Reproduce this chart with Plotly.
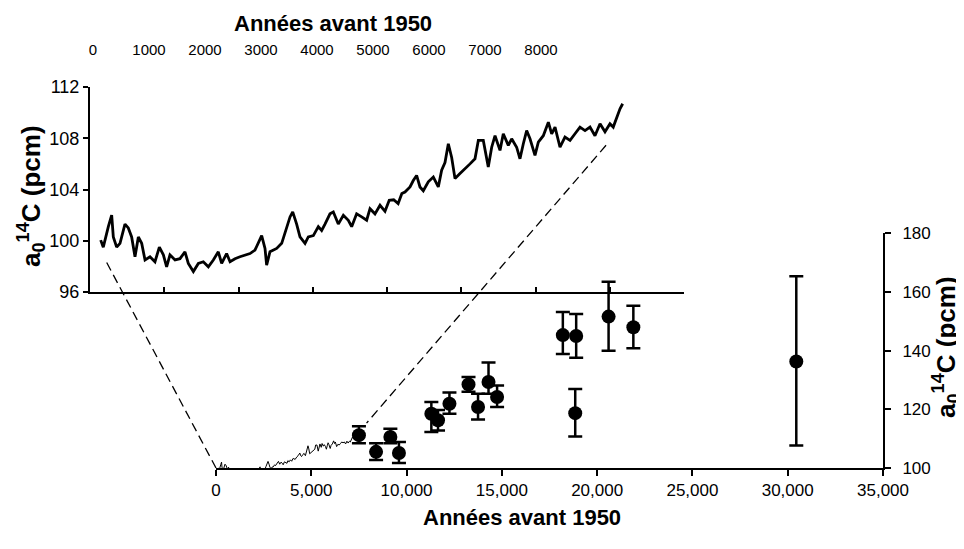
import plotly.graph_objects as go

# ---------------- data ----------------
# Holocene record (inset, also drawn small in the main panel)
holo_years = [144, 179, 247, 292, 314, 359, 404, 471, 516, 561, 606, 651, 696, 741, 808, 875, 934, 988,
              1032, 1077, 1145, 1212, 1279, 1324, 1392, 1459, 1526, 1594, 1661, 1728, 1773, 1840, 1886,
              1953, 2020, 2088, 2155, 2222, 2312, 2357, 2379, 2424, 2514, 2582, 2626, 2694, 2730, 2783,
              2828, 2896, 2940, 3008, 3075, 3120, 3165, 3232, 3277, 3344, 3412, 3479, 3524, 3591, 3659,
              3726, 3771, 3838, 3906, 3973, 4030, 4090, 4150, 4200, 4242, 4310, 4354, 4399, 4444, 4489,
              4556, 4624, 4691, 4736, 4781, 4826, 4871, 4916, 4983, 5051, 5118, 5185, 5230, 5297, 5364,
              5410, 5455, 5522, 5566, 5634, 5679, 5746, 5791, 5836, 5881, 5926, 5993, 6038, 6105, 6173,
              6218, 6263, 6330, 6397, 6465, 6532, 6599, 6667, 6734, 6801, 6869, 6936, 7003, 7047, 7093,
              7138, 7174]
holo_a14c = [100.05, 99.5, 101.1, 102.0, 100.3, 99.5, 99.8, 101.3, 101.0, 100.3, 98.75, 100.3, 99.8, 98.5,
             98.75, 98.36, 99.5, 98.9, 97.97, 98.9, 98.5, 98.6, 99.14, 98.23, 97.6, 98.23, 98.36, 97.97,
             98.5, 99.14, 98.23, 99.0, 98.36, 98.6, 98.75, 98.9, 99.0, 99.27, 100.4, 99.4, 98.1, 99.14,
             99.4, 99.8, 100.57, 101.86, 102.25, 101.3, 100.3, 99.8, 100.3, 100.4, 101.1, 100.8, 101.3,
             102.1, 102.25, 101.3, 101.99, 101.6, 101.1, 102.1, 101.86, 101.6, 102.5, 102.1, 102.77,
             102.3, 103.16, 103.2, 102.9, 103.68, 103.8, 104.2, 104.7, 105.1, 104.2, 103.9, 104.6, 104.97,
             104.2, 105.5, 106.1, 107.57, 106.5, 104.85, 105.24, 105.6, 106.0, 106.4, 107.83, 107.83,
             105.75, 107.3, 108.2, 107.05, 108.35, 107.44, 107.96, 107.3, 106.4, 107.57, 108.6, 107.96,
             106.66, 107.7, 108.2, 109.25, 108.35, 108.87, 107.3, 108.09, 107.83, 108.35, 108.87, 108.6,
             108.87, 108.2, 109.13, 108.5, 109.13, 108.87, 109.64, 110.3, 110.69]

# Dated samples (main panel)
pt_years = [7500, 8400, 9150, 9600, 11300, 11650, 12250, 13250, 13750, 14300, 14750,
            18200, 18900, 18850, 20600, 21900, 30450]
pt_a14c = [111.2, 105.5, 110.6, 105.1, 118.5, 116.3, 121.9, 128.5, 120.8, 129.3, 124.2,
           145.3, 145.0, 118.7, 151.6, 148.0, 136.3]
pt_err_plus = [3.0, 2.9, 2.8, 3.8, 4.0, 3.5, 3.8, 2.5, 4.5, 6.7, 3.9, 7.9, 7.5, 8.2, 11.9, 7.3, 29.1]
pt_err_minus = [2.8, 2.8, 2.2, 3.4, 6.2, 3.5, 3.4, 2.5, 4.3, 4.0, 3.4, 6.4, 7.4, 8.0, 11.6, 7.2, 28.6]

# ticks
inset_x_ticks = [0, 1000, 2000, 3000, 4000, 5000, 6000, 7000, 8000]
inset_y_ticks = [96, 100, 104, 108, 112]
main_x_ticks = [0, 5000, 10000, 15000, 20000, 25000, 30000, 35000]
main_y_ticks = [100, 120, 140, 160, 180]

# connector end points: (inset x, inset y) -> (main x, main y)
conn_inset = [(225, 98.3), (6950, 107.45)]
conn_main = [(0, 100), (7900, 115.3)]

x_title = "Années avant 1950"
y_title = "a<sub>0</sub><sup>14</sup>C (pcm)"

# ---------------- layout geometry ----------------
# the page body adds an 8 px margin, so the figure is sized/placed accordingly
OFF = 8
W, H = 964 - OFF, 549 - OFF
ML, MR, MT, MB = 82, 81, 79, 81
PW, PH = W - ML - MR, H - MT - MB


def px_x(p):
    """page pixel x -> paper fraction"""
    return (p - OFF - ML) / PW


def px_y(p):
    """page pixel y -> paper fraction"""
    return (H - MB - (p - OFF)) / PH


main_xdom = [px_x(216), 1.0]
main_ydom = [0.0, px_y(233.3)]
inset_xdom = [0.0, px_x(684)]
inset_ydom = [px_y(292), 1.0]
toplab_xdom = [px_x(93), px_x(541)]
main_xr, main_yr = [0, 35000], [100, 180]
inset_xr, inset_yr = [0, 8000], [96, 112]


def to_paper(v, dom, rng):
    return dom[0] + (v - rng[0]) / (rng[1] - rng[0]) * (dom[1] - dom[0])


FONT = "Liberation Sans, Arial, sans-serif"
TICKF = dict(family=FONT, size=17, color="black")

fig = go.Figure()

# main panel curve (thin)
fig.add_trace(go.Scatter(x=holo_years, y=holo_a14c, mode="lines",
                         line=dict(color="black", width=1), xaxis="x", yaxis="y",
                         showlegend=False, hoverinfo="skip"))
# main panel points
fig.add_trace(go.Scatter(x=pt_years, y=pt_a14c, mode="markers",
                         marker=dict(size=14, color="black"),
                         error_y=dict(type="data", symmetric=False, array=pt_err_plus,
                                      arrayminus=pt_err_minus, color="black",
                                      thickness=2.5, width=7),
                         xaxis="x", yaxis="y", showlegend=False, cliponaxis=False))
# inset curve (thick)
fig.add_trace(go.Scatter(x=holo_years, y=holo_a14c, mode="lines",
                         line=dict(color="black", width=2.8), xaxis="x2", yaxis="y2",
                         showlegend=False, hoverinfo="skip"))
# invisible trace carrying the top label axis
fig.add_trace(go.Scatter(x=[inset_x_ticks[0]], y=[inset_y_ticks[0]], xaxis="x3", yaxis="y2",
                         mode="markers", marker=dict(opacity=0), showlegend=False,
                         hoverinfo="skip"))

shapes = []
for (ix, iy), (mx, my) in zip(conn_inset, conn_main):
    shapes.append(dict(type="line", xref="paper", yref="paper",
                       x0=to_paper(ix, inset_xdom, inset_xr), y0=to_paper(iy, inset_ydom, inset_yr),
                       x1=to_paper(mx, main_xdom, main_xr), y1=to_paper(my, main_ydom, main_yr),
                       line=dict(color="black", width=1.3, dash="9px,5px")))

XTF = dict(family=FONT, size=22, color="black")
YTF = dict(family=FONT, size=26, color="black")
annotations = [
    dict(text="<b>" + x_title + "</b>", xref="paper", yref="paper", x=px_x(232), y=px_y(8.5),
         xanchor="left", yanchor="top", showarrow=False, font=XTF),
    dict(text="<b>" + x_title + "</b>", xref="paper", yref="paper", x=px_x(421), y=px_y(517),
         xanchor="left", yanchor="middle", showarrow=False, font=XTF),
    dict(text="<b>" + y_title + "</b>", xref="paper", yref="paper", x=px_x(31), y=px_y(196),
         xanchor="center", yanchor="middle", textangle=-90, showarrow=False, font=YTF),
    dict(text="<b>" + y_title + "</b>", xref="paper", yref="paper", x=px_x(946), y=px_y(347),
         xanchor="center", yanchor="middle", textangle=-90, showarrow=False, font=YTF),
]

axis_common = dict(showgrid=False, zeroline=False, showline=True, linecolor="black",
                   linewidth=2, tickcolor="black", tickwidth=2, tickfont=TICKF)

fig.update_layout(
    width=W, height=H,
    margin=dict(l=ML, r=MR, t=MT, b=MB),
    paper_bgcolor="white", plot_bgcolor="rgba(0,0,0,0)",
    showlegend=False,
    xaxis=dict(domain=main_xdom, range=main_xr, anchor="y", tickvals=main_x_ticks,
               tickformat=",d", ticks="outside", ticklen=6, ticklabelstandoff=0, **axis_common),
    yaxis=dict(domain=main_ydom, range=main_yr, anchor="x", side="right",
               tickvals=main_y_ticks, ticks="outside", ticklen=6, ticklabelstandoff=8,
               **axis_common),
    xaxis2=dict(domain=inset_xdom, range=inset_xr, anchor="y2", tickvals=inset_x_ticks,
                ticks="inside", ticklen=5, showticklabels=False, **axis_common),
    yaxis2=dict(domain=inset_ydom, range=inset_yr, anchor="x2", side="left",
                tickvals=inset_y_ticks, ticks="outside", ticklen=5,
                **{**axis_common, "tickfont": dict(family=FONT, size=18, color="black")}),
    xaxis3=dict(domain=toplab_xdom, range=inset_xr, anchor="free", position=1.0, side="top",
                tickvals=inset_x_ticks, ticks="", showline=False, showgrid=False,
                zeroline=False, ticklabelstandoff=29,
                tickfont=dict(family=FONT, size=15, color="black")),
    shapes=shapes,
    annotations=annotations,
)

fig.write_html("out.html")
